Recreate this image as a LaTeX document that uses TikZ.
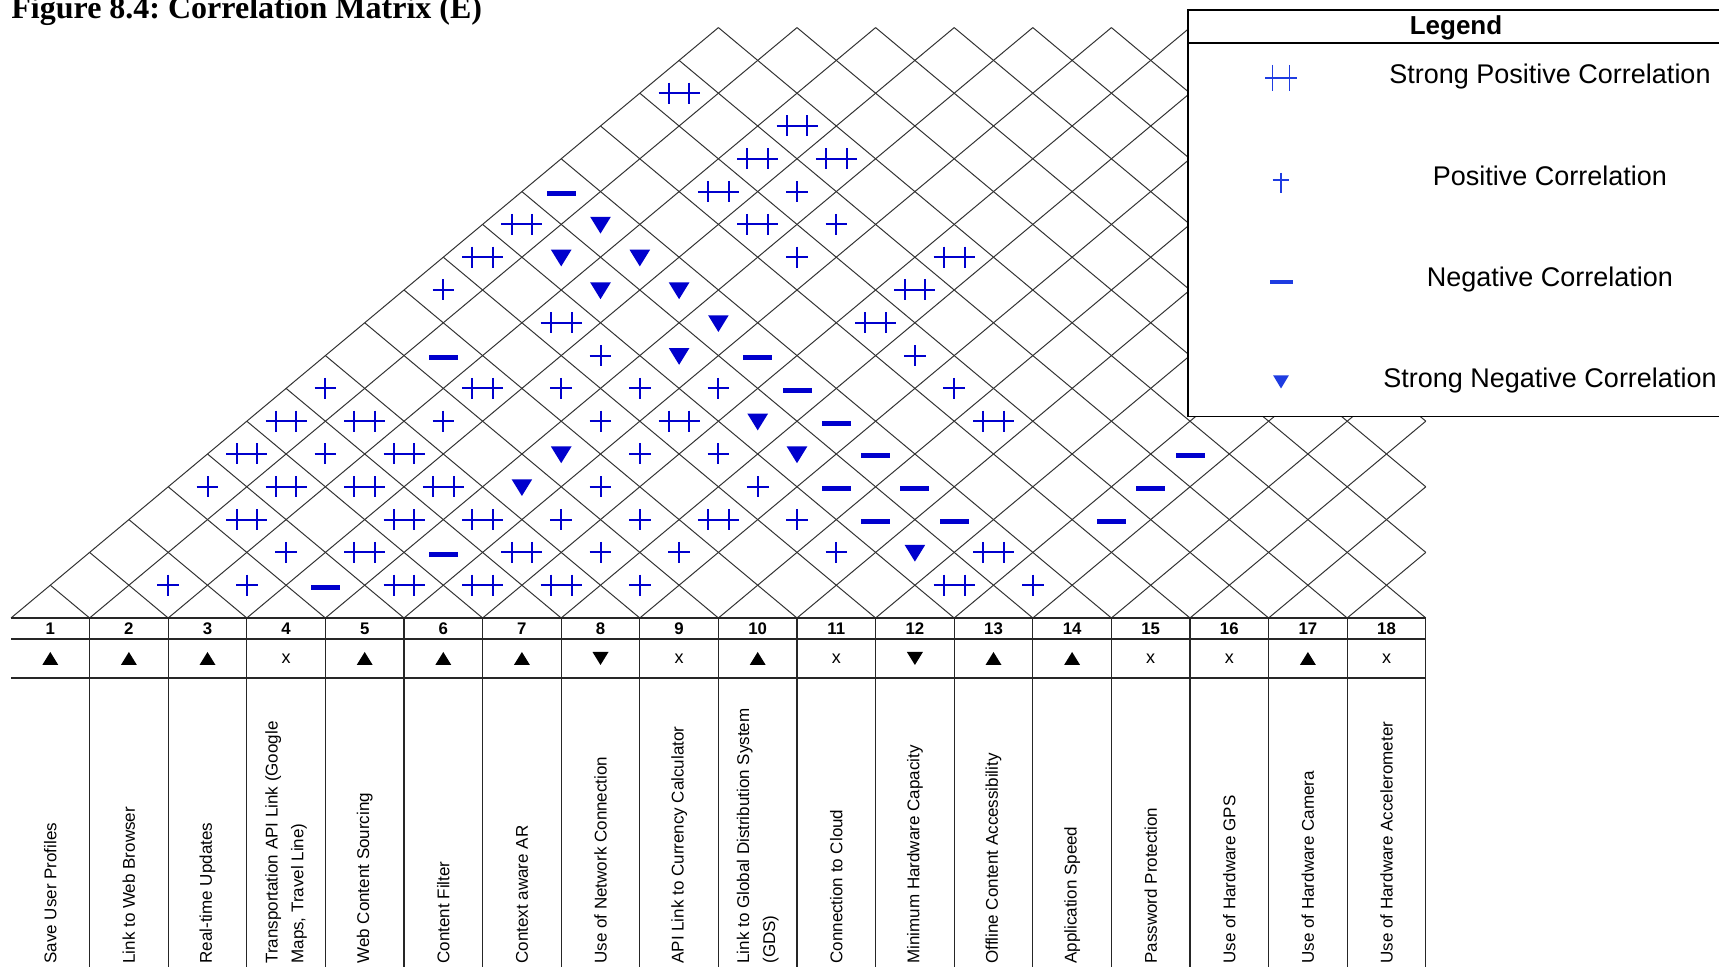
\documentclass[tikz,border=0pt]{standalone}
\usepackage{fontspec}
\setmainfont{Liberation Sans}
\newfontfamily\ttlfont{Liberation Serif}
\frenchspacing
\definecolor{symblue}{RGB}{0,0,205}
\definecolor{legblue}{RGB}{30,60,225}
\tikzset{
  gridline/.style={line width=0.5pt, draw=black!80},
  tabline/.style={line width=0.65pt, draw=black!85},
  symline/.style={line width=1pt, draw=symblue},
  legline/.style={line width=0.7pt, draw=legblue},
  lab/.style={rotate=90, anchor=west, inner sep=0pt, align=left, font=\fontsize{8.5}{13}\selectfont},
  num/.style={anchor=base, inner sep=0pt, font=\bfseries\fontsize{8.4}{10}\selectfont},
  legtext/.style={anchor=base, inner sep=0pt, font=\fontsize{13.5}{16}\selectfont},
  spp/.pic={\draw[symline] (-20.5,0) -- (20.5,0) (-10.3,-10.5) -- (-10.3,10.5) (10.3,-10.5) -- (10.3,10.5);},
  pp/.pic={\draw[symline] (-10.8,0) -- (10.8,0) (0,-10.5) -- (0,10.5);},
  nn/.pic={\fill[symblue] (-14.5,-0.5) rectangle (14.5,4.5);},
  snn/.pic={\fill[symblue] (-10.3,-7.5) -- (10.3,-7.5) -- (0,9.2) -- cycle;}
}
\begin{document}
\begin{tikzpicture}[x=0.5pt,y=-0.5pt]
\useasboundingbox (0,0) rectangle (1719,967);
\clip (0,0) rectangle (1719,967);
% title
\node[anchor=base west, inner sep=0pt, font=\ttlfont\bfseries\fontsize{16}{19}\selectfont] (title) at (11,19) {Figure 8.4: Correlation Matrix (E)};
% roof lattice
\foreach \k in {0,...,9}
  \draw[gridline] ({11+\k*78.6},618) -- ({11+(\k+9)*78.6},27.6);
\foreach \k in {10,...,17}
  \draw[gridline] ({11+\k*78.6},618) -- (1425.8,{618-2*(18-\k)*32.8});
\foreach \k in {1,...,18}
  \draw[gridline] ({11+\k*78.6},618) -- ({11+\k*39.3},{618-\k*32.8});
\foreach \m in {1,...,8}
  \draw[gridline] (1425.8,{618-2*\m*32.8}) -- ({11+(9+\m)*78.6},27.6);
% correlation symbols
\foreach \i/\j in {1/17,3/18,3/17,4/18,3/16,1/13,4/16,1/12,7/18,7/17,3/12,7/16,3/10,1/7,2/8,6/12,10/16,1/6,3/8,2/6,3/7,4/8,2/5,4/7,5/8,8/11,4/6,6/8,12/14,5/6,6/7,7/8,12/13}
  \pic at ({11+(\i+\j-1)*39.3},{618-(\j-\i)*32.8}) {spp};
\foreach \i/\j in {4/17,5/17,5/16,1/11,4/12,8/16,1/8,4/11,5/12,6/13,9/16,3/9,5/11,2/7,6/11,7/12,1/5,6/10,8/12,6/9,7/10,9/12,3/5,7/9,8/10,10/12,2/3,3/4,8/9,13/14}
  \pic at ({11+(\i+\j-1)*39.3},{618-(\j-\i)*32.8}) {pp};
\foreach \i/\j in {1/14,2/10,6/14,7/14,8/14,9/14,13/18,9/13,10/14,13/17,10/13,11/14,13/16,5/7,4/5}
  \pic at ({11+(\i+\j-1)*39.3},{618-(\j-\i)*32.8}) {nn};
\foreach \i/\j in {2/14,2/13,3/14,3/13,4/14,5/14,5/13,7/13,5/10,8/13,5/9,11/13}
  \pic at ({11+(\i+\j-1)*39.3},{618-(\j-\i)*32.8}) {snn};
% table
\draw[tabline] (11,618) -- (1425.8,618) (11,639) -- (1425.8,639) (11,678) -- (1425.8,678);
\foreach \k in {1,...,18}
  \draw[tabline] ({11+\k*78.6},618) -- ({11+\k*78.6},967);
\foreach \k in {1,...,18}
  \node[num] (n\k) at ({11+(\k-0.5)*78.6},635) {\k};
\foreach \k in {1,2,3,5,6,7,10,13,14,17}
  \fill[black] ({11+(\k-0.5)*78.6-8},665) -- ({11+(\k-0.5)*78.6+8},665) -- ({11+(\k-0.5)*78.6},652) -- cycle;
\foreach \k in {8,12}
  \fill[black] ({11+(\k-0.5)*78.6-8},652) -- ({11+(\k-0.5)*78.6+8},652) -- ({11+(\k-0.5)*78.6},665) -- cycle;
\foreach \k in {4,9,11,15,16,18}
  \node[anchor=base, inner sep=0pt, font=\fontsize{9}{10}\selectfont] (d\k) at ({11+(\k-0.5)*78.6},664) {x};
% labels
\node[lab] (l1) at ({11+0.5*78.6},964) {Save User Profiles};
\node[lab] (l2) at ({11+1.5*78.6},964) {Link to Web Browser};
\node[lab] (l3) at ({11+2.5*78.6},964) {Real-time Updates};
\node[lab] (l4) at ({11+3.5*78.6},964) {Transportation API Link (Google\\Maps, Travel Line)};
\node[lab] (l5) at ({11+4.5*78.6},964) {Web Content Sourcing};
\node[lab] (l6) at ({11+5.5*78.6},964) {Content Filter};
\node[lab] (l7) at ({11+6.5*78.6},964) {Context aware AR};
\node[lab] (l8) at ({11+7.5*78.6},964) {Use of Network Connection};
\node[lab] (l9) at ({11+8.5*78.6},964) {API Link to Currency Calculator};
\node[lab] (l10) at ({11+9.5*78.6},964) {Link to Global Distribution System\\(GDS)};
\node[lab] (l11) at ({11+10.5*78.6},964) {Connection to Cloud};
\node[lab] (l12) at ({11+11.5*78.6},964) {Minimum Hardware Capacity};
\node[lab] (l13) at ({11+12.5*78.6},964) {Offline Content Accessibility};
\node[lab] (l14) at ({11+13.5*78.6},964) {Application Speed};
\node[lab] (l15) at ({11+14.5*78.6},964) {Password Protection};
\node[lab] (l16) at ({11+15.5*78.6},964) {Use of Hardware GPS};
\node[lab] (l17) at ({11+16.5*78.6},964) {Use of Hardware Camera};
\node[lab] (l18) at ({11+17.5*78.6},964) {Use of Hardware Accelerometer};
% legend
\filldraw[fill=white, draw=black, line width=0.8pt] (1188,10) rectangle (1740,416.5);
\draw[line width=0.8pt] (1188,43.3) -- (1740,43.3);
\node[anchor=base, inner sep=0pt, font=\bfseries\fontsize{13}{15}\selectfont] (legtitle) at (1456,35) {Legend};
\draw[legline] (1265,78) -- (1297,78) (1272.4,65) -- (1272.4,91) (1289.6,65) -- (1289.6,91);
\draw[legline] (1272.7,180) -- (1289.3,180) (1281,173) -- (1281,193);
\fill[legblue] (1269.5,280) rectangle (1292.5,284);
\fill[legblue] (1273.2,375.5) -- (1288.8,375.5) -- (1281,388.5) -- cycle;
\node[legtext] (lg1) at (1550,84) {Strong Positive Correlation};
\node[legtext] (lg2) at (1550,186) {Positive Correlation};
\node[legtext] (lg3) at (1550,287) {Negative Correlation};
\node[legtext] (lg4) at (1550,388) {Strong Negative Correlation};
\end{tikzpicture}
\end{document}
